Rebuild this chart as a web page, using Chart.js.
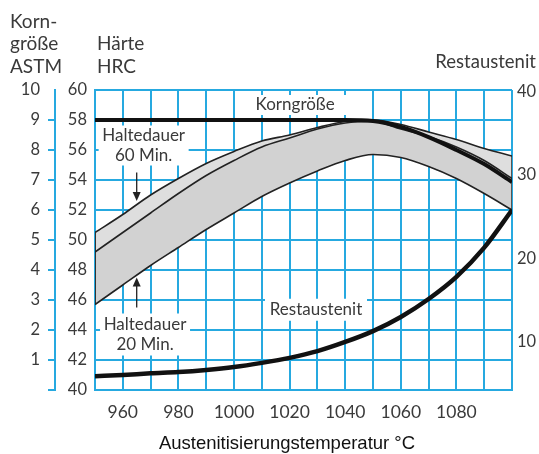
<!DOCTYPE html>
<html>
<head>
<meta charset="utf-8">
<script src="https://cdn.jsdelivr.net/npm/chart.js@4.4.1/dist/chart.umd.min.js"></script>
<style>
  html, body { margin: 0; padding: 0; background: #fff; }
</style>
</head>
<body>
<canvas id="myChart" width="539" height="454"></canvas>
<script>
// Austenitisierungstemperatur in °C
const temps = [950, 960, 970, 980, 990, 1000, 1010, 1020, 1030, 1040, 1050, 1060, 1070, 1080, 1090, 1100];

// Härte HRC, Streuband (obere Kante, Trennlinie, untere Kante)
const hrcUpper  = [50.5, 51.7, 53.0, 54.1, 55.1, 55.9, 56.6, 57.0, 57.5, 57.9, 58.0, 57.7, 57.2, 56.7, 56.1, 55.6];
const hrcMiddle = [49.2, 50.5, 51.8, 53.1, 54.3, 55.3, 56.2, 56.8, 57.4, 57.8, 57.9, 57.4, 56.9, 56.2, 55.3, 54.1];
const hrcLower  = [45.7, 47.0, 48.3, 49.5, 50.7, 51.8, 52.9, 53.8, 54.6, 55.3, 55.7, 55.5, 54.9, 54.1, 53.1, 52.0];

// Korngröße ASTM
const grainSize = [9, 9, 9, 9, 9, 9, 9, 9, 9, 9, 8.97, 8.77, 8.43, 8.0, 7.53, 6.93];

// Restaustenit in %
const retained = [5.9, 6.05, 6.25, 6.4, 6.65, 7.0, 7.5, 8.1, 8.9, 10.0, 11.3, 13.0, 15.15, 17.8, 21.3, 25.8];

const xTickLabels = [960, 980, 1000, 1020, 1040, 1060, 1080];
const restTicks = [10, 20, 30, 40];

const blue = 'rgb(38, 169, 224)';
const textColor = '#3a3a3a';
const labelFont = 'Lato, "Open Sans", sans-serif';

const pts = arr => temps.map((t, i) => ({ x: t, y: arr[i] }));

// Texte und Pfeile im Diagramm
const textPlugin = {
  id: 'texts',
  afterDatasetsDraw(chart) {
    const { ctx } = chart;
    const x = chart.scales.x, y = chart.scales.y;

    function box(tx, ty, lines, w, h, lh) {
      const cx = x.getPixelForValue(tx), cy = y.getPixelForValue(ty);
      ctx.fillStyle = '#fff';
      ctx.fillRect(cx - w / 2, cy - h / 2, w, h);
      ctx.fillStyle = textColor;
      ctx.textAlign = 'center';
      ctx.textBaseline = 'middle';
      lines.forEach((l, i) => {
        ctx.fillText(l, cx, cy + (i - (lines.length - 1) / 2) * lh);
      });
    }
    function arrow(tx, y0, y1) {
      const px = x.getPixelForValue(tx);
      const p0 = y.getPixelForValue(y0), p1 = y.getPixelForValue(y1);
      const dir = p1 > p0 ? 1 : -1;
      ctx.strokeStyle = '#222';
      ctx.lineWidth = 1.3;
      ctx.beginPath();
      ctx.moveTo(px, p0);
      ctx.lineTo(px, p1 - dir * 6);
      ctx.stroke();
      ctx.fillStyle = '#222';
      ctx.beginPath();
      ctx.moveTo(px, p1);
      ctx.lineTo(px - 4, p1 - dir * 9);
      ctx.lineTo(px + 4, p1 - dir * 9);
      ctx.closePath();
      ctx.fill();
    }

    ctx.save();
    ctx.font = '17px ' + labelFont;
    box(1022, 59.0, ['Korngröße'], 106, 20, 0);
    box(967.5, 56.3, ['Haltedauer', '60 Min.'], 90, 40, 20);
    box(968, 43.7, ['Haltedauer', '20 Min.'], 90, 42, 20);
    box(1029.5, 45.35, ['Restaustenit'], 102, 22, 0);
    arrow(965, 54.5, 52.6);
    arrow(965, 45.5, 47.5);
    ctx.restore();
  },
  afterDraw(chart) {
    const { ctx } = chart;
    const y = chart.scales.y;
    ctx.save();
    ctx.fillStyle = textColor;
    ctx.textBaseline = 'alphabetic';
    ctx.font = '19px ' + labelFont;
    ctx.textAlign = 'left';
    ctx.fillText('Korn-', 10, 28);
    ctx.fillText('größe', 10, 50);
    ctx.fillText('ASTM', 10, 73);
    ctx.fillText('Härte', y.left + 42, 50);
    ctx.fillText('HRC', y.left + 42, 73);
    ctx.font = '18.5px ' + labelFont;
    ctx.textAlign = 'right';
    ctx.fillText('Restaustenit', 536, 68);
    ctx.font = '18.5px "Liberation Sans", Arial, sans-serif';
    ctx.textAlign = 'center';
    ctx.fillStyle = '#111';
    ctx.fillText('Austenitisierungstemperatur °C', 287, 449);
    ctx.restore();
  }
};

const data = {
  datasets: [
    {
      label: 'Korngröße',
      data: pts(grainSize),
      yAxisID: 'yK',
      borderColor: '#111',
      borderWidth: 4,
      fill: false
    },
    {
      label: 'Restaustenit',
      data: pts(retained),
      yAxisID: 'yR',
      borderColor: '#111',
      borderWidth: 4.5,
      fill: false
    },
    {
      label: 'Haltedauer 60 Min.',
      data: pts(hrcUpper),
      yAxisID: 'y',
      borderColor: '#222',
      borderWidth: 1.6,
      backgroundColor: '#dedede',
      fill: '+1'
    },
    {
      label: 'Trennlinie',
      data: pts(hrcMiddle),
      yAxisID: 'y',
      borderColor: '#222',
      borderWidth: 1.6,
      backgroundColor: '#d2d2d2',
      fill: '+1'
    },
    {
      label: 'Haltedauer 20 Min.',
      data: pts(hrcLower),
      yAxisID: 'y',
      borderColor: '#222',
      borderWidth: 1.6,
      fill: false
    },
    {
      label: 'Rand links',
      data: [{ x: temps[0], y: hrcUpper[0] }, { x: temps[0], y: hrcLower[0] }],
      yAxisID: 'y',
      borderColor: '#333',
      borderWidth: 2,
      tension: 0,
      cubicInterpolationMode: 'default',
      fill: false
    },
    {
      label: 'Rand rechts',
      data: [{ x: temps[temps.length - 1], y: hrcUpper[hrcUpper.length - 1] }, { x: temps[temps.length - 1], y: hrcLower[hrcLower.length - 1] }],
      yAxisID: 'y',
      borderColor: '#555',
      borderWidth: 2,
      tension: 0,
      cubicInterpolationMode: 'default',
      fill: false
    }
  ]
};

const config = {
  type: 'line',
  data: data,
  options: {
    responsive: false,
    animation: false,
    devicePixelRatio: 1,
    layout: { padding: { top: 90, left: 0, right: 0, bottom: 0 } },
    elements: {
      point: { radius: 0 },
      line: { cubicInterpolationMode: 'monotone' }
    },
    plugins: {
      legend: { display: false },
      tooltip: { enabled: false },
      filler: { drawTime: 'beforeDatasetsDraw' }
    },
    scales: {
      x: {
        type: 'linear',
        min: 950,
        max: 1100,
        afterFit: s => { s.height = 64; },
        grid: { color: blue, lineWidth: 2, drawTicks: false },
        border: { color: blue, width: 2 },
        ticks: {
          stepSize: 10,
          padding: 12,
          autoSkip: false,
          maxRotation: 0,
          color: textColor,
          font: { family: labelFont, size: 17.5 },
          callback: v => xTickLabels.includes(v) ? String(v) : ''
        }
      },
      y: {
        position: 'left',
        weight: 0,
        min: 40,
        max: 60,
        afterFit: s => { s.width = 40; },
        grid: { color: blue, lineWidth: 2, drawTicks: false },
        border: { color: blue, width: 2 },
        ticks: {
          stepSize: 2,
          padding: 8,
          color: textColor,
          font: { family: labelFont, size: 16.5 }
        }
      },
      yK: {
        position: 'left',
        weight: 1,
        min: 0,
        max: 10,
        afterFit: s => { s.width = 55; },
        grid: {
          drawOnChartArea: false,
          tickLength: 7,
          lineWidth: 2,
          tickColor: ctx => ctx.tick && ctx.tick.value === 10 ? 'rgba(0,0,0,0)' : blue
        },
        border: { color: blue, width: 2 },
        ticks: {
          stepSize: 1,
          padding: 8,
          color: textColor,
          font: { family: labelFont, size: 16.5 },
          callback: v => v === 0 ? '' : String(v)
        }
      },
      yR: {
        position: 'right',
        min: 4.25,
        max: 40.18,
        afterFit: s => { s.width = 27; },
        afterBuildTicks: s => { s.ticks = restTicks.map(v => ({ value: v })); },
        grid: { display: false, drawTicks: false, tickLength: 0 },
        border: { display: false },
        ticks: {
          padding: 5,
          color: textColor,
          font: { family: labelFont, size: 16.5 }
        }
      }
    }
  },
  plugins: [textPlugin]
};

const myChart = new Chart(document.getElementById('myChart'), config);
</script>
</body>
</html>
